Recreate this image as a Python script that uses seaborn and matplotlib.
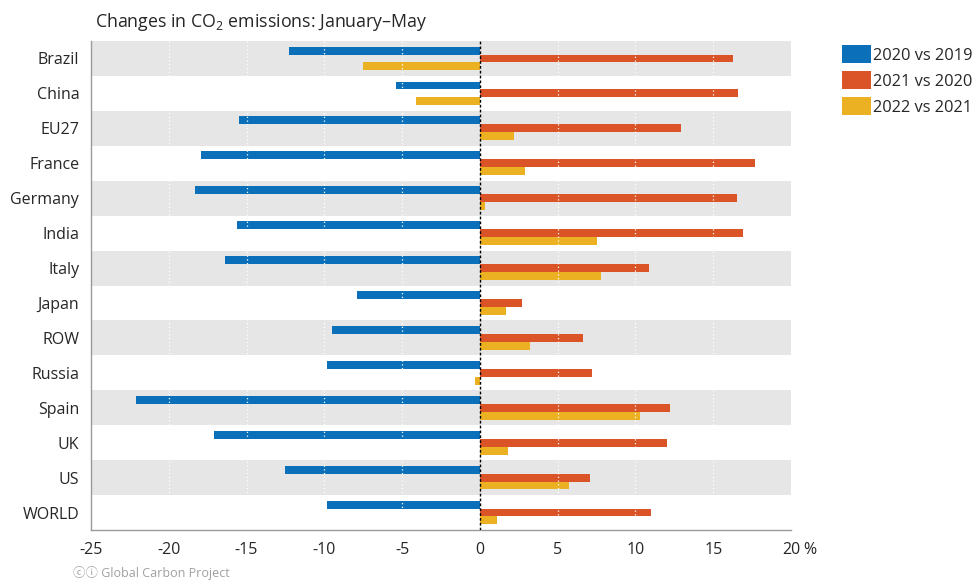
import matplotlib
matplotlib.use("Agg")
import matplotlib.pyplot as plt
import seaborn as sns
import pandas as pd

countries = ["Brazil", "China", "EU27", "France", "Germany", "India", "Italy",
             "Japan", "ROW", "Russia", "Spain", "UK", "US", "WORLD"]
chg_2020 = [-12.3, -5.4, -15.5, -17.9, -18.3, -15.6, -16.4,
            -7.9, -9.5, -9.8, -22.1, -17.1, -12.5, -9.8]
chg_2021 = [16.3, 16.6, 12.9, 17.7, 16.5, 16.9, 10.9,
            2.7, 6.6, 7.2, 12.2, 12.0, 7.1, 11.0]
chg_2022 = [-7.5, -4.1, 2.2, 2.9, 0.3, 7.5, 7.8,
            1.7, 3.2, -0.3, 10.3, 1.8, 5.7, 1.1]
series = ["2020 vs 2019", "2021 vs 2020", "2022 vs 2021"]
colors = ["#0b70b9", "#da5427", "#ecb122"]
xticks = [-25, -20, -15, -10, -5, 0, 5, 10, 15, 20]

sns.set_style("white")
plt.rcParams["font.family"] = ["Open Sans", "DejaVu Sans"]
plt.rcParams["mathtext.fontset"] = "custom"
plt.rcParams["mathtext.rm"] = "Open Sans"
plt.rcParams["mathtext.default"] = "regular"

df = pd.DataFrame({
    "country": countries * 3,
    "change": chg_2020 + chg_2021 + chg_2022,
    "period": [s for s in series for _ in countries],
})

fig = plt.figure(figsize=(9.78, 5.81), dpi=100)
ax = fig.add_axes([91 / 978, 1 - 530 / 581, 700 / 978, 489 / 581])

sns.barplot(data=df, y="country", x="change", hue="period", order=countries,
            hue_order=series, palette=colors, orient="h", width=0.68,
            errorbar=None, ax=ax, zorder=2, saturation=1, linewidth=0)

# alternating row bands
for i in range(len(countries)):
    if i % 2 == 0:
        ax.axhspan(i - 0.5, i + 0.5, color="#e6e6e6", lw=0, zorder=0)

for x in xticks[1:-1]:
    if x != 0:
        ax.axvline(x, color="white", lw=0.9, ls=(0, (1, 2)), zorder=2.5)
ax.axvline(0, color="black", lw=1, ls=(0, (2, 1.5)), zorder=3)

ax.set_xlim(-25, 20)
ax.set_ylim(len(countries) - 0.5, -0.5)
ax.set_xticks(xticks)
ax.set_xticklabels([str(x) for x in xticks])
ax.set_xlabel("")
ax.set_ylabel("")
ax.tick_params(axis="x", length=5, width=1, color="#999999", labelsize=11.5, pad=4)
ax.tick_params(axis="y", length=5.5, width=1, color="#999999", labelsize=11.5, pad=3)
ax.annotate("%", xy=(20, 0), xycoords=("data", "axes fraction"),
            xytext=(9, -9), textcoords="offset points", fontsize=11.5,
            va="top", ha="left")

sns.despine(ax=ax)
for s in ["left", "bottom"]:
    ax.spines[s].set_color("#9a9a9a")
    ax.spines[s].set_linewidth(1)

handles, labels = ax.get_legend_handles_labels()
ax.legend_.remove()
fig.legend(handles, labels, loc="upper left", bbox_to_anchor=(842 / 978, 1 - 45 / 581),
           frameon=False, fontsize=11.8, handlelength=1.75, handleheight=1.35,
           handletextpad=0.12, labelspacing=0.45, borderaxespad=0, borderpad=0)

fig.text(95 / 978, 1 - 22 / 581, "Changes in CO$_2$ emissions: January–May",
         fontsize=12.8, va="center", ha="left")
fig.text(73 / 978, 1 - 580 / 581, "ⓒⓘ Global Carbon Project", fontsize=9,
         color="#a0a0a0", va="bottom", ha="left",
         family=["Open Sans", "Noto Sans CJK SC", "DejaVu Sans"])

fig.savefig("out.png", dpi=100)
